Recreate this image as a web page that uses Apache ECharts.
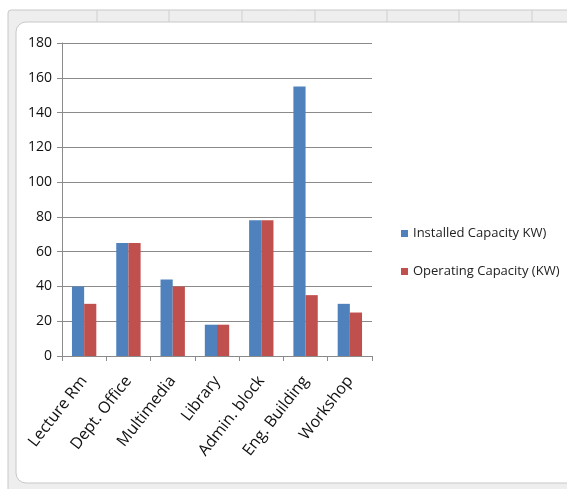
<!DOCTYPE html>
<html>
<head>
<meta charset="utf-8">
<script src="https://cdn.jsdelivr.net/npm/echarts@6/dist/echarts.min.js"></script>
<style>
  html, body { margin: 0; padding: 0; background: #fff; }
  #main { width: 567px; height: 489px; }
</style>
</head>
<body>
<div id="main"></div>
<script>
var categories = ["Lecture Rm", "Dept. Office", "Multimedia", "Library", "Admin. block", "Eng. Building", "Workshop"];
var installed = [40, 65, 44, 18, 78, 155, 30];
var operating = [30, 65, 40, 18, 78, 35, 25];
var seriesNames = ["Installed Capacity KW)", "Operating Capacity (KW)"];
var colLines = [97, 169, 242, 315, 387, 459, 532];

var myChart = echarts.init(document.getElementById("main"), null, { renderer: "canvas" });

// excel-ish frame around the chart
var frame = [
  { type: "rect", shape: { x: 0, y: 0, width: 567, height: 489 }, style: { fill: "#fff" }, z: -10 },
  { type: "rect", shape: { x: 8, y: 10, width: 570, height: 485, r: 3 }, style: { fill: "#eeeeee", stroke: "#c8c8c8", lineWidth: 1 }, z: -9 },
  { type: "rect", shape: { x: 16, y: 22, width: 570, height: 461, r: [10, 0, 0, 10] }, style: { fill: "#fff", stroke: "#c8c8c8", lineWidth: 1 }, z: -8 }
];
colLines.forEach(function (x) {
  frame.push({ type: "line", shape: { x1: x, y1: 10, x2: x, y2: 22 }, style: { stroke: "#cfcfcf", lineWidth: 1 }, z: -8 });
});

option = {
  animation: false,
  textStyle: { fontFamily: "Open Sans" },
  graphic: frame,
  grid: { left: 62, top: 43, right: 195, bottom: 133, containLabel: false },
  legend: {
    orient: "vertical",
    left: 396,
    top: 222,
    itemWidth: 7,
    itemHeight: 7,
    itemGap: 25,
    icon: "rect",
    textStyle: { fontSize: 13, color: "#222", fontFamily: "Open Sans" },
    data: seriesNames
  },
  xAxis: {
    type: "category",
    data: categories,
    axisLine: { lineStyle: { color: "#8a8a8a", width: 1 } },
    axisTick: { show: true, length: 5, alignWithLabel: false, lineStyle: { color: "#8a8a8a" } },
    axisLabel: { rotate: 52, fontSize: 16, color: "#111", margin: 22, interval: 0 }
  },
  yAxis: {
    type: "value",
    min: 0,
    max: 180,
    interval: 20,
    axisLine: { show: true, lineStyle: { color: "#8a8a8a", width: 1 } },
    axisTick: { show: true, length: 5, lineStyle: { color: "#8a8a8a" } },
    axisLabel: { fontSize: 14, color: "#111", margin: 10 },
    splitLine: { lineStyle: { color: "#8a8a8a", width: 1 } }
  },
  series: [
    {
      name: seriesNames[0],
      type: "bar",
      data: installed,
      barGap: "0%",
      barCategoryGap: "45%",
      itemStyle: { color: "#4F81BD" }
    },
    {
      name: seriesNames[1],
      type: "bar",
      data: operating,
      itemStyle: { color: "#C0504D" }
    }
  ]
};

myChart.setOption(option);
</script>
</body>
</html>
